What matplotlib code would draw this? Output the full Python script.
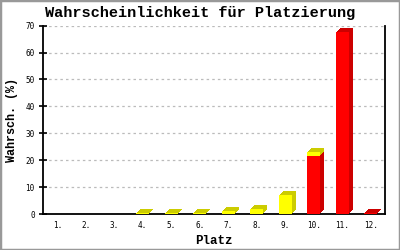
import matplotlib
matplotlib.use("Agg")
import matplotlib.pyplot as plt
from matplotlib.transforms import ScaledTranslation
from matplotlib.patches import Rectangle

places = [f"{i}." for i in range(1, 13)]
yellow_vals = [0, 0, 0, 0.25, 0.25, 0.25, 1.0, 2.0, 7.2, 1.5, 0, 0]
red_vals = [0, 0, 0, 0, 0, 0, 0, 0, 0, 21.4, 67.5, 0.5]
yticks = [0, 10, 20, 30, 40, 50, 60, 70]

fig = plt.figure(figsize=(4, 2.5), dpi=100)
ax = fig.add_axes([43 / 400, 1 - 214 / 250, 342 / 400, 188.3 / 250])

x = list(range(1, 13))
width = 0.46
d = 4  # depth of 3d effect in pixels

# darker shifted copies make the side and top faces
for k in range(d, 0, -1):
    tr = ax.transData + ScaledTranslation(k / 100, k / 100, fig.dpi_scale_trans)
    ax.bar(x, red_vals, width, color="#cc0000", linewidth=0, transform=tr, zorder=2)
    ax.bar(x, yellow_vals, width, bottom=red_vals, color="#cccc00", linewidth=0,
           transform=tr, zorder=2)
ax.bar(x, red_vals, width, color="#ff0000", linewidth=0, zorder=3)
ax.bar(x, yellow_vals, width, bottom=red_vals, color="#ffff00", linewidth=0, zorder=3)

ax.set_xlim(0.5, 12.5)
ax.set_ylim(0, 70)
ax.set_xticks(x)
ax.set_xticklabels(places, fontsize=5.5, family="DejaVu Sans Mono")
ax.set_yticks(yticks)
ax.set_yticklabels([str(v) for v in yticks], fontsize=5.5, family="DejaVu Sans Mono")
ax.tick_params(axis="x", length=0, pad=5)
ax.tick_params(axis="y", direction="inout", length=6, width=1.2, pad=3)
ax.yaxis.grid(True, color="#bbbbbb", linestyle=(0, (2, 2.5)), linewidth=0.9)
ax.set_axisbelow(True)
for s in ["left", "bottom", "right"]:
    ax.spines[s].set_linewidth(1.3)
ax.spines["top"].set_visible(False)

fig.text(0.5, 1 - 13 / 250, "Wahrscheinlichkeit für Platzierung", family="Liberation Mono",
         fontweight="bold", fontsize=11, ha="center", va="center")
ax.set_xlabel("Platz", family="Liberation Mono", fontweight="bold", fontsize=9, labelpad=4)
ax.set_ylabel("Wahrsch. (%)", family="Liberation Mono", fontweight="bold", fontsize=8.5,
              labelpad=5)

fig.patches.append(Rectangle((0, 0), 1, 1, transform=fig.transFigure, fill=False,
                             edgecolor="#999999", linewidth=2.5))
fig.savefig("out.png", dpi=100)
